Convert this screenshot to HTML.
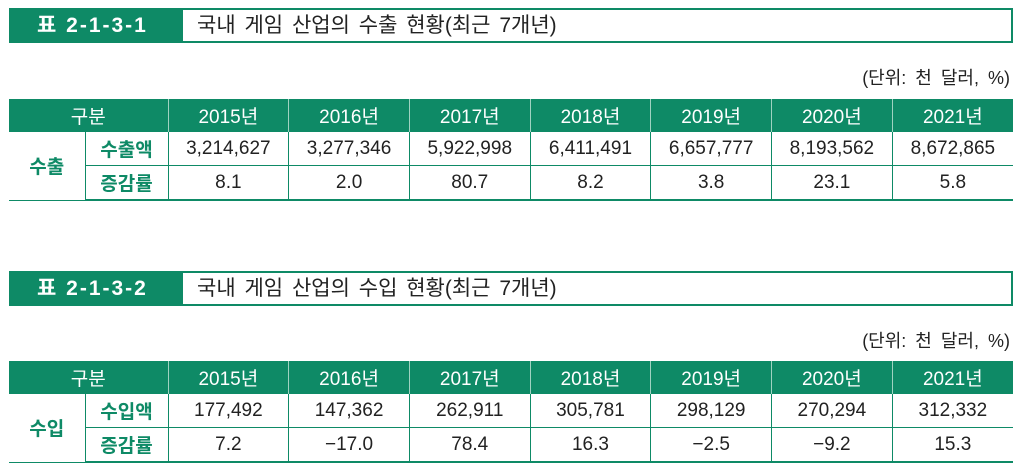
<!DOCTYPE html>
<html><head><meta charset="utf-8"><style>
body{margin:0;width:1024px;height:475px;background:#fff;font-family:"Liberation Sans","Noto Sans CJK KR",sans-serif;position:relative;overflow:hidden}
.tb{position:absolute;left:9px;width:1004px;height:35px;display:flex}
.tb .g{width:174px;background:#0e8a66;color:#fff;font-weight:bold;font-size:21px;line-height:35px;padding-left:28px;box-sizing:border-box;letter-spacing:2px}
.tb .w{flex:1;border:2px solid #0e8a66;border-left:none;font-size:21px;line-height:31px;padding-left:14px;color:#222;word-spacing:3px}
.unit{position:absolute;right:14px;font-size:18px;color:#222;word-spacing:4px}
table{position:absolute;left:9px;width:1004px;border-collapse:collapse;table-layout:fixed;font-size:19px;color:#222}
th{background:#0e8a66;color:#fff;font-weight:normal;font-size:19px;height:33px;border-left:1px solid #9fd3c1;padding:0}
th:first-child{border-left:none}
td{height:33px;text-align:center;border-left:1px solid #0e8a66;border-bottom:1px solid #0e8a66;padding:0}
td.l{color:#0e8a66;font-weight:bold;border-left:none}
td.s{color:#0e8a66;font-weight:bold}
tr:last-child td{border-bottom:2px solid #0e8a66}
</style></head><body>
<div class="tb" style="top:8px"><div class="g">표 2-1-3-1</div><div class="w">국내 게임 산업의 수출 현황(최근 7개년)</div></div>
<div class="unit" style="top:64px">(단위: 천 달러, %)</div>
<table style="top:99px">
<colgroup><col style="width:76px"><col style="width:83px"><col><col><col><col><col><col><col></colgroup>
<tr><th colspan="2">구분</th><th>2015년</th><th>2016년</th><th>2017년</th><th>2018년</th><th>2019년</th><th>2020년</th><th>2021년</th></tr>
<tr><td class="l" rowspan="2">수출</td><td class="s">수출액</td><td>3,214,627</td><td>3,277,346</td><td>5,922,998</td><td>6,411,491</td><td>6,657,777</td><td>8,193,562</td><td>8,672,865</td></tr>
<tr><td class="s">증감률</td><td>8.1</td><td>2.0</td><td>80.7</td><td>8.2</td><td>3.8</td><td>23.1</td><td>5.8</td></tr>
</table>
<div class="tb" style="top:271px"><div class="g">표 2-1-3-2</div><div class="w">국내 게임 산업의 수입 현황(최근 7개년)</div></div>
<div class="unit" style="top:327px">(단위: 천 달러, %)</div>
<table style="top:361px">
<colgroup><col style="width:76px"><col style="width:83px"><col><col><col><col><col><col><col></colgroup>
<tr><th colspan="2">구분</th><th>2015년</th><th>2016년</th><th>2017년</th><th>2018년</th><th>2019년</th><th>2020년</th><th>2021년</th></tr>
<tr><td class="l" rowspan="2">수입</td><td class="s">수입액</td><td>177,492</td><td>147,362</td><td>262,911</td><td>305,781</td><td>298,129</td><td>270,294</td><td>312,332</td></tr>
<tr><td class="s">증감률</td><td>7.2</td><td>−17.0</td><td>78.4</td><td>16.3</td><td>−2.5</td><td>−9.2</td><td>15.3</td></tr>
</table>
</body></html>
